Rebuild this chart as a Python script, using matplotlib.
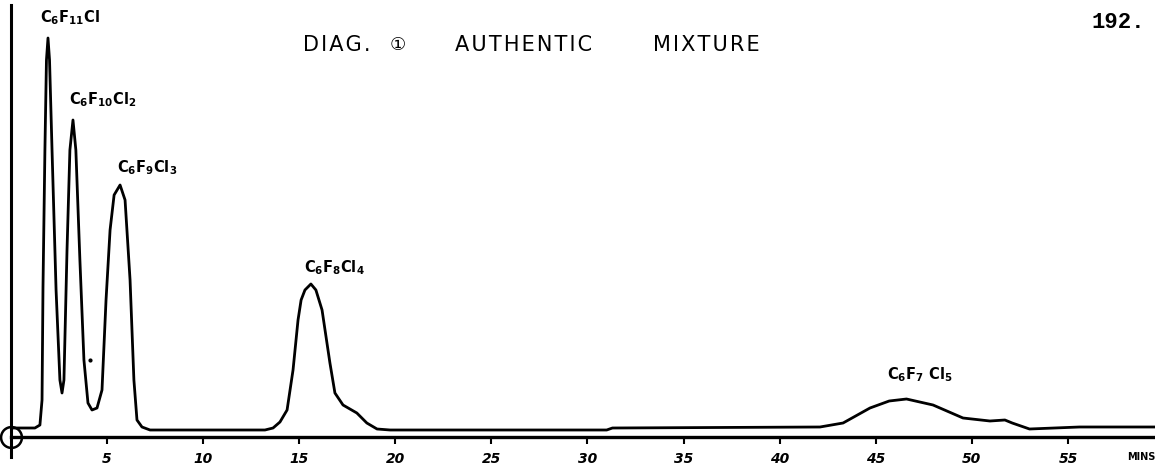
import numpy as np
import matplotlib.pyplot as plt

# Chromatogram trace (time in mins, pen height)
time_min = [0.1, 1.25, 1.51, 1.62, 1.67, 1.77, 1.85, 1.93, 2.01, 2.14, 2.35, 2.55, 2.66,
            2.76, 2.92, 3.07, 3.23, 3.38, 3.59, 3.80, 4.01, 4.22, 4.48, 4.74, 4.95, 5.16,
            5.37, 5.68, 5.94, 6.20, 6.40, 6.56, 6.82, 7.24, 13.22, 13.64, 14.0, 14.37,
            14.68, 14.94, 15.1, 15.3, 15.61, 15.87, 16.19, 16.6, 16.86, 17.28, 17.64,
            18.0, 18.52, 19.05, 19.73, 31.0, 31.3, 42.1, 43.3, 44.7, 45.7, 46.6, 47.98,
            49.54, 50.94, 51.72, 52.1, 53.0, 55.6, 59.5]
response = [9, 9, 12, 37, 150, 287, 377, 399, 377, 287, 147, 57, 44,
            57, 187, 287, 317, 287, 177, 77, 34, 27, 29, 47, 137, 207,
            242, 252, 237, 157, 57, 17, 10, 7, 7, 9, 15, 27,
            67, 117, 137, 147, 153, 147, 127, 74, 44, 32, 28,
            24, 14, 8, 7, 7, 9, 10, 14, 29, 36, 38, 32,
            19, 16, 17, 14, 8, 10, 10]

peak_names = [r'C$_\mathbf{6}$F$_\mathbf{11}$Cl', r'C$_\mathbf{6}$F$_\mathbf{10}$Cl$_\mathbf{2}$',
              r'C$_\mathbf{6}$F$_\mathbf{9}$Cl$_\mathbf{3}$', r'C$_\mathbf{6}$F$_\mathbf{8}$Cl$_\mathbf{4}$',
              r'C$_\mathbf{6}$F$_\mathbf{7}$ Cl$_\mathbf{5}$']
peak_times = [1.93, 3.23, 5.68, 15.61, 46.6]
peak_heights = [399, 317, 252, 153, 38]
label_offsets = [(-6, 8), (-3, 8), (-2, 6), (-5, 5), (-14, 11)]

tick_vals = [5, 10, 15, 20, 25, 30, 35, 40, 45, 50, 55]

title_words = ['DIAG.', '\u2460', 'AUTHENTIC', 'MIXTURE']
title_x = [303, 390, 455, 653]

fig = plt.figure(figsize=(11.55, 4.66), dpi=100)
ax = fig.add_axes([10.9 / 1155, 29 / 466, 1 - 10.9 / 1155, 437 / 466])
ax.set_xlim(0, 59.53)
ax.set_ylim(0, 437)

ax.plot(time_min, response, color='black', lw=2.0, solid_joinstyle='round')

# axes as drawn by hand
for s in ax.spines.values():
    s.set_visible(False)
ax.axhline(0, color='black', lw=2.4, clip_on=False)
ax.plot([0, 0], [-20, 432], color='black', lw=2.2, clip_on=False)
ax.plot([0], [0], marker='o', ms=15, mfc='none', mec='black', mew=1.8, clip_on=False)

ax.set_yticks([])
ax.set_xticks(tick_vals)
ax.set_xticklabels([str(v) for v in tick_vals], fontsize=10, style='italic',
                   fontweight='bold')
ax.tick_params(axis='x', direction='out', length=5, width=1.5, pad=6)
ax.text(1.0, -0.035, 'MINS', transform=ax.transAxes, ha='right', va='top',
        fontsize=7, fontweight='bold')

plt.rcParams['mathtext.default'] = 'bf'
for name, t, h, off in zip(peak_names, peak_times, peak_heights, label_offsets):
    ax.annotate(name, xy=(t, h), xytext=off, textcoords='offset points',
                ha='left', va='bottom', fontsize=10.5, fontweight='bold')

# stray pen dot
ax.plot([4.1], [77], marker='.', ms=4, color='black')

for word, x in zip(title_words, title_x):
    fs = 13 if word == '\u2460' else 15
    fig.text(x / 1155, 1 - 45 / 466, '\u200a'.join(word), ha='left', va='center',
             fontsize=fs, family='DejaVu Sans')
fig.text(1145 / 1155, 1 - 22 / 466, '192.', ha='right', va='center',
         fontsize=16, fontweight='bold', family='Liberation Mono')

fig.savefig('out.png', dpi=100)
